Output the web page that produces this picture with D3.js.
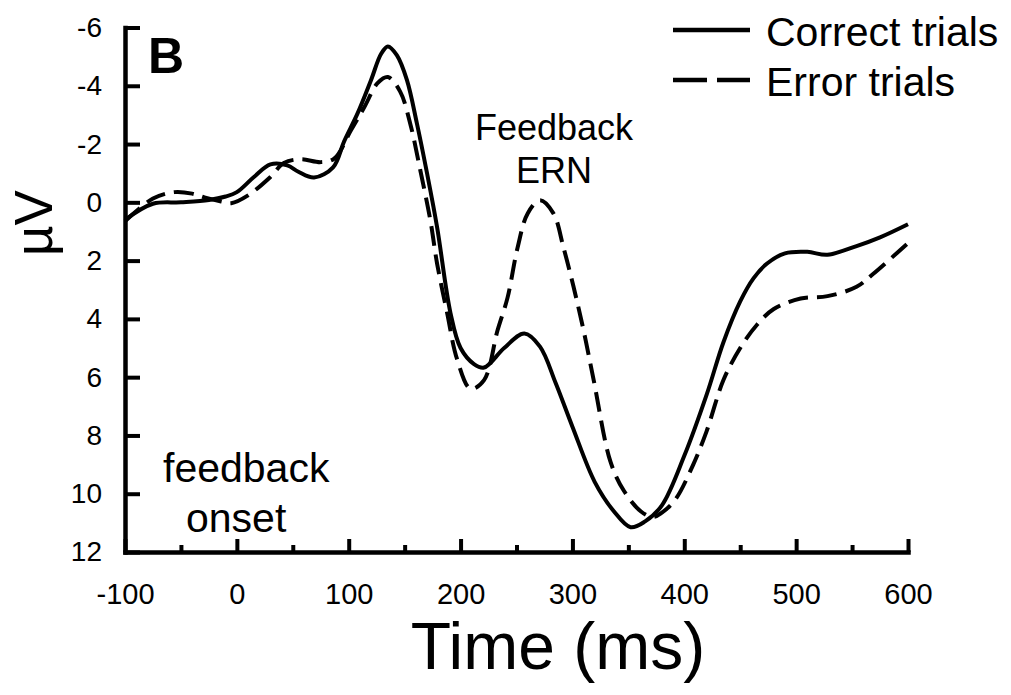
<!DOCTYPE html>
<html>
<head>
<meta charset="utf-8">
<script src="https://cdn.jsdelivr.net/npm/d3@7"></script>
<style>
  body { margin: 0; background: #fff; }
  text { font-family: "Liberation Sans", Arial, sans-serif; fill: #000; }
</style>
</head>
<body>
<div id="chart"></div>
<script>
// ERP waveforms, time in ms, amplitude in microvolts (negative plotted up)
var correctTime = [-100, -75, -50, -25, -10, 0, 15, 30, 45, 55, 69, 86, 96, 108, 120, 129, 135, 143, 152, 161, 170, 179, 191, 200, 212, 221, 239, 257, 271, 285, 300, 320, 337, 352, 365, 380, 400, 420, 435, 450, 462, 474, 490, 510, 528, 554, 575, 600]
var correctVals = [0.6, 0.05, 0.0, -0.08, -0.2, -0.35, -0.86, -1.3, -1.27, -1.05, -0.85, -1.2, -2.1, -3.06, -4.2, -5.1, -5.35, -5.05, -4.2, -2.7, -1.0, 0.85, 3.8, 5.0, 5.55, 5.67, 5.0, 4.5, 4.95, 6.2, 7.7, 9.6, 10.6, 11.15, 10.95, 10.4, 8.7, 6.6, 4.8, 3.4, 2.6, 2.1, 1.75, 1.7, 1.8, 1.5, 1.2, 0.75]

var errorTime = [-100, -75, -56, -40, -29, -14, -5, 10, 30, 42, 57, 75, 87, 102, 114, 126, 135, 146, 155, 164, 173, 179, 188, 197, 209, 221, 233, 242, 251, 260, 271, 283, 292, 301, 310, 319, 334, 346, 361, 372, 380, 392, 408, 420, 435, 450, 465, 480, 504, 528, 554, 569, 600]
var errorVals = [0.65, -0.13, -0.35, -0.3, -0.17, -0.03, 0.03, -0.24, -0.87, -1.35, -1.48, -1.38, -1.5, -2.47, -3.27, -4.1, -4.3, -3.8, -2.7, -1.1, 0.62, 2.1, 3.8, 5.4, 6.4, 6.1, 4.4, 3.27, 1.55, 0.38, -0.07, 0.38, 1.55, 2.9, 4.4, 6.1, 8.9, 9.9, 10.6, 10.8, 10.65, 10.2, 9.0, 7.85, 6.1, 5.0, 4.2, 3.66, 3.3, 3.22, 2.9, 2.45, 1.4]

var xTicks = [-100, 0, 100, 200, 300, 400, 500, 600]
var xMinorTicks = [-50, 50, 150, 250, 350, 450, 550]
var yTicks = [-6, -4, -2, 0, 2, 4, 6, 8, 10, 12]

var seriesNames = ['Correct trials', 'Error trials']

var width = 1011, height = 695

var svg = d3.select('#chart').append('svg')
  .attr('width', width).attr('height', height)

var x = d3.scaleLinear().domain([-100, 600]).range([125, 908])
var y = d3.scaleLinear().domain([-6, 12]).range([27.5, 552])

// plain hyphen for negatives, like the original
var fmt = function (d) { return String(d) }

// axes, ticks point inward
var yAxis = d3.axisLeft(y).tickValues(yTicks).tickFormat(fmt).tickSizeInner(-15).tickSizeOuter(0).tickPadding(23)
var xAxis = d3.axisBottom(x).tickValues(xTicks).tickFormat(fmt).tickSizeInner(-13).tickSizeOuter(0).tickPadding(31)
var xMinor = d3.axisBottom(x).tickValues(xMinorTicks).tickSize(-7).tickFormat('')

var gx = svg.append('g').attr('transform', 'translate(0,552)').call(xAxis)
svg.append('g').attr('transform', 'translate(0,552)').call(xMinor).select('.domain').remove()
var gy = svg.append('g').attr('transform', 'translate(125,0)').call(yAxis)

svg.selectAll('.domain').attr('stroke', '#000').attr('stroke-width', 4.5).attr('stroke-linecap', 'square')
svg.selectAll('.tick line').attr('stroke', '#000').attr('stroke-width', 4)
gx.selectAll('.tick text').style('font-size', '29px').style('font-family', '"Liberation Sans", Arial, sans-serif')
gy.selectAll('.tick text').style('font-size', '28px').style('font-family', '"Liberation Sans", Arial, sans-serif')

// waveforms
var line = d3.line()
  .x(function (d) { return x(d[0]) })
  .y(function (d) { return y(d[1]) })
  .curve(d3.curveCatmullRom.alpha(0.5))

var correct = d3.zip(correctTime, correctVals)
var error = d3.zip(errorTime, errorVals)

svg.append('path').datum(error)
  .attr('d', line).attr('fill', 'none').attr('stroke', '#000')
  .attr('stroke-width', 4).attr('stroke-dasharray', '20,9')
svg.append('path').datum(correct)
  .attr('d', line).attr('fill', 'none').attr('stroke', '#000')
  .attr('stroke-width', 4)

// axis titles
svg.append('text').attr('x', 558).attr('y', 669).attr('text-anchor', 'middle')
  .style('font-size', '66px').text('Time (ms)')
svg.append('text').attr('transform', 'translate(52,223) rotate(-90)').attr('text-anchor', 'middle')
  .style('font-size', '53px').text('µV')

// panel letter and annotations
svg.append('text').attr('x', 148).attr('y', 73).style('font-size', '50px').style('font-weight', 'bold').text('B')
svg.append('text').attr('x', 554).attr('y', 140).attr('text-anchor', 'middle').style('font-size', '36px').text('Feedback')
svg.append('text').attr('x', 554).attr('y', 183).attr('text-anchor', 'middle').style('font-size', '36px').text('ERN')
svg.append('text').attr('x', 163).attr('y', 482).style('font-size', '41px').text('feedback')
svg.append('text').attr('x', 186).attr('y', 532).style('font-size', '41px').text('onset')

// legend
var legend = svg.append('g')
legend.selectAll('line').data(seriesNames).enter().append('line')
  .attr('x1', 673).attr('x2', 750)
  .attr('y1', function (d, i) { return 30 + i * 50 })
  .attr('y2', function (d, i) { return 30 + i * 50 })
  .attr('stroke', '#000').attr('stroke-width', 4.5)
  .attr('stroke-dasharray', function (d, i) { return i ? '34,10' : null })
legend.selectAll('text').data(seriesNames).enter().append('text')
  .attr('x', 766)
  .attr('y', function (d, i) { return 46 + i * 50 })
  .style('font-size', '41px')
  .text(function (d) { return d })
</script>
</body>
</html>
